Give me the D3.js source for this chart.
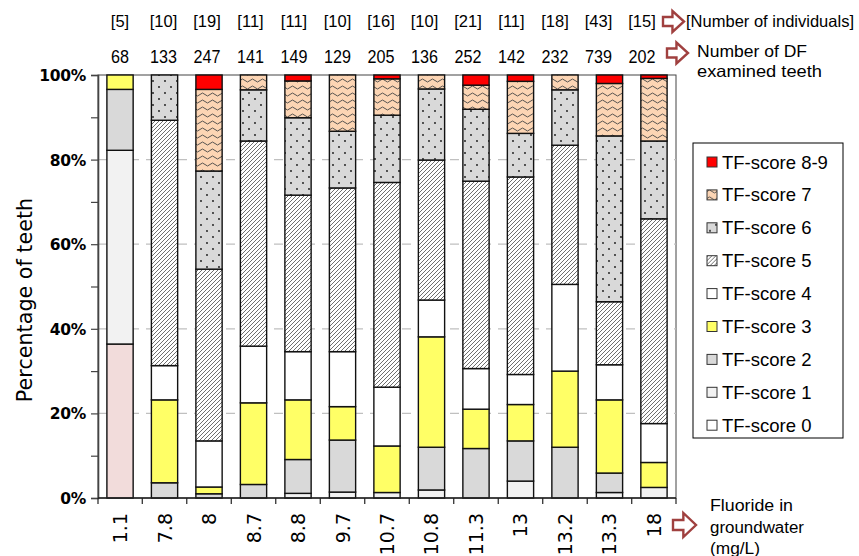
<!DOCTYPE html>
<html><head><meta charset="utf-8">
<script src="https://cdn.jsdelivr.net/npm/d3@7/dist/d3.min.js"></script>
<style>body{margin:0;background:#fff}svg{display:block}text{font-family:"Liberation Sans",Arial,sans-serif}</style>
</head><body><svg id="c" width="859" height="556"></svg>
<script>
const fluoride = ["1.1","7.8","8","8.7","8.8","9.7","10.7","10.8","11.3","13","13.2","13.3","18"];
const individuals = ["[5]","[10]","[19]","[11]","[11]","[10]","[16]","[10]","[21]","[11]","[18]","[43]","[15]"];
const teeth = [68,133,247,141,149,129,205,136,252,142,232,739,202];
const scoreKeys = ["TF0","TF1","TF2","TF3","TF4","TF5","TF6","TF7","TF8"];
const scoreLabels = ["TF-score 0","TF-score 1","TF-score 2","TF-score 3","TF-score 4","TF-score 5","TF-score 6","TF-score 7","TF-score 8-9"];
// percentages per bar, bottom to top
const tf0 = [36.4,0,0,0,0,0,0,0,0,0,0,0,0];
const tf1 = [45.8,0,0,0,1.1,1.4,1.3,1.9,0,4.0,0,1.3,2.5];
const tf2 = [14.4,3.6,1.0,3.2,8.0,12.3,0,10.1,11.7,9.5,12.0,4.6,0];
const tf3 = [3.4,19.6,1.6,19.3,14.1,7.9,11.0,26.1,9.3,8.6,18.0,17.3,5.9];
const tf4 = [0,8.1,10.9,13.4,11.4,13.0,13.9,8.7,9.6,7.1,20.5,8.3,9.2];
const tf5 = [0,58.0,40.6,48.5,37.0,38.7,48.4,33.1,44.3,46.7,32.9,14.9,48.4];
const tf6 = [0,10.7,23.2,12.1,18.3,13.4,15.9,16.8,17.0,10.3,13.1,39.2,18.4];
const tf7 = [0,0,19.3,3.5,8.7,13.3,8.6,3.3,5.7,12.3,3.5,12.4,14.8];
const tf8 = [0,0,3.4,0,1.4,0,0.9,0,2.4,1.5,0,2.0,0.8];
const yTicks = [0,20,40,60,80,100];

const series = [tf0,tf1,tf2,tf3,tf4,tf5,tf6,tf7,tf8];
const table = fluoride.map((f,i)=>{const o={cat:f};scoreKeys.forEach((k,j)=>o[k]=series[j][i]);return o;});

const svg = d3.select("#c");
const L=98,R=676,T=75,B=498;
const x = d3.scaleBand().domain(fluoride).range([L,R]).paddingInner(0.41).paddingOuter(0.2);
const y = d3.scaleLinear().domain([0,100]).range([B,T]);
const cx = c => x(c)+x.bandwidth()/2;
const labelX = i => cx(fluoride[0]) + i*(x.step()-1.0);

// patterns
const defs = svg.append("defs");
const ph = defs.append("pattern").attr("id","hatch").attr("patternUnits","userSpaceOnUse").attr("width",4).attr("height",4);
ph.append("rect").attr("width",4).attr("height",4).attr("fill","#fff");
ph.append("path").attr("d","M-1,1 l2,-2 M0,4 l4,-4 M3,5 l2,-2").attr("stroke","#555").attr("stroke-width",0.85);
const pd = defs.append("pattern").attr("id","dots").attr("patternUnits","userSpaceOnUse").attr("width",12).attr("height",12);
pd.append("rect").attr("width",12).attr("height",12).attr("fill","#d9d9d9");
pd.append("circle").attr("cx",3).attr("cy",3).attr("r",0.9).attr("fill","#111");
pd.append("circle").attr("cx",9).attr("cy",9).attr("r",0.9).attr("fill","#111");
const pw = defs.append("pattern").attr("id","wave").attr("patternUnits","userSpaceOnUse").attr("width",10).attr("height",7);
pw.append("rect").attr("width",10).attr("height",7).attr("fill","#fcd5b4");
pw.append("path").attr("d","M0,3.5 Q2.5,0.5 5,3.5 T10,3.5").attr("stroke","#444").attr("fill","none").attr("stroke-width",0.9);

const fills = {TF0:"#ffffff",TF1:"#f2f2f2",TF2:"#d9d9d9",TF3:"#ffff66",TF4:"#ffffff",TF5:"url(#hatch)",TF6:"url(#dots)",TF7:"url(#wave)",TF8:"#ff0000"};
const fillFor = (k,cat)=> (k==="TF0" && cat==="1.1") ? "#f2dcdb" : fills[k];

// frame
svg.append("rect").attr("x",L).attr("y",T).attr("width",R-L).attr("height",B-T).attr("fill","none").attr("stroke","#444").attr("stroke-width",1);
// gridlines
svg.append("g").selectAll("line").data(yTicks.filter(v=>v>0&&v<100)).join("line")
  .attr("x1",L).attr("x2",R).attr("y1",d=>y(d)).attr("y2",d=>y(d))
  .attr("stroke","#c0c0c0").attr("stroke-width",1.3).attr("stroke-dasharray","9,7");

// bars
const stack = d3.stack().keys(scoreKeys)(table);
svg.append("g").selectAll("g").data(stack).join("g")
  .selectAll("rect").data(s=>s.map(d=>({key:s.key,d}))).join("rect")
  .filter(o=>o.d[1]-o.d[0]>0)
  .attr("x",o=>x(o.d.data.cat)).attr("width",x.bandwidth())
  .attr("y",o=>y(o.d[1])).attr("height",o=>y(o.d[0])-y(o.d[1]))
  .attr("fill",o=>fillFor(o.key,o.d.data.cat)).attr("stroke","#111").attr("stroke-width",1.4);

// y axis
const ya = d3.axisLeft(y).tickValues(d3.range(0,101,10)).tickSize(7).tickFormat("");
svg.append("g").attr("transform",`translate(${L},0)`).call(ya).call(g=>{g.select(".domain").attr("stroke","#444").attr("stroke-width",1.6);g.selectAll("line").attr("stroke","#444").attr("stroke-width",1.2);});
svg.append("g").selectAll("text").data(yTicks).join("text")
  .attr("x",86).attr("y",d=>y(d)+6).attr("text-anchor","end")
  .style("font-family","'DejaVu Sans',Verdana,sans-serif")
  .attr("font-size",15.5).attr("font-weight","bold").attr("letter-spacing",-0.3).text(d=>d+"%");
svg.append("text").attr("transform","translate(32,300) rotate(-90)").attr("text-anchor","middle")
  .style("font-family","'DejaVu Sans',Verdana,sans-serif")
  .attr("font-size",20.7).text("Percentage of teeth");

// x axis
const bounds = [L].concat(fluoride.slice(0,-1).map(c=>x(c)+x.bandwidth()+x.step()*x.paddingInner()/2)).concat([R]);
svg.append("line").attr("x1",L).attr("x2",R).attr("y1",B).attr("y2",B).attr("stroke","#222").attr("stroke-width",1.4);
svg.append("g").selectAll("line").data(bounds).join("line")
  .attr("x1",d=>d).attr("x2",d=>d).attr("y1",B).attr("y2",B+6).attr("stroke","#222").attr("stroke-width",1.2);
svg.append("g").selectAll("text").data(fluoride).join("text")
  .attr("transform",d=>`translate(${cx(d)+7},513) rotate(-90)`)
  .style("font-family","'DejaVu Sans',Verdana,sans-serif")
  .attr("text-anchor","end").attr("font-size",19).text(d=>d);

// top labels
svg.append("g").selectAll("text").data(individuals).join("text")
  .attr("x",(d,i)=>labelX(i)).attr("y",27).attr("text-anchor","middle")
  .attr("font-size",16.5).text(d=>d);
svg.append("g").selectAll("text").data(teeth).join("text")
  .attr("transform",(d,i)=>`translate(${labelX(i)},63) scale(0.85,1)`).attr("text-anchor","middle")
  .attr("font-size",19).text(d=>d);

function arrow(x0,yc,w,h,b){
  const m=w*0.45;
  svg.append("polygon").attr("points",[[0,-b/2],[m,-b/2],[m,-h/2],[w,0],[m,h/2],[m,b/2],[0,b/2]].map(p=>[x0+p[0],yc+p[1]].join(",")).join(" "))
    .attr("fill","#fff").attr("stroke","#a0403f").attr("stroke-width",2.4).attr("stroke-linejoin","miter");
}
arrow(663,21.5,21,21,9); arrow(667,53,21,21,9); arrow(673,525,23,24,10);
function fixed(t,x0,yb,fs,len){
  svg.append("text").attr("x",x0).attr("y",yb).attr("font-size",fs).attr("textLength",len).attr("lengthAdjust","spacingAndGlyphs").text(t);
}
fixed("[Number of individuals]",686,27,16.5,168);
fixed("Number of DF",697,57,16.5,110);
fixed("examined teeth",697,77,16.5,125);
fixed("Fluoride  in",710,510.5,16,83);
fixed("groundwater",710,532.5,16,94);
fixed("(mg/L)",710,553.5,16,50);

// legend
const lg = svg.append("g");
lg.append("rect").attr("x",693).attr("y",143).attr("width",150).attr("height",295).attr("fill","#fff").attr("stroke","#000").attr("stroke-width",1);
const legOrder = scoreKeys.slice().reverse();
const li = lg.selectAll("g").data(legOrder).join("g").attr("transform",(d,i)=>`translate(707,${162+i*32.9})`);
li.append("rect").attr("x",0).attr("y",-5).attr("width",10).attr("height",10).attr("fill",d=>fills[d]).attr("stroke","#333").attr("stroke-width",1);
li.append("text").attr("x",15).attr("y",6.5).attr("font-size",18.5).text(d=>scoreLabels[scoreKeys.indexOf(d)]);
</script></body></html>
